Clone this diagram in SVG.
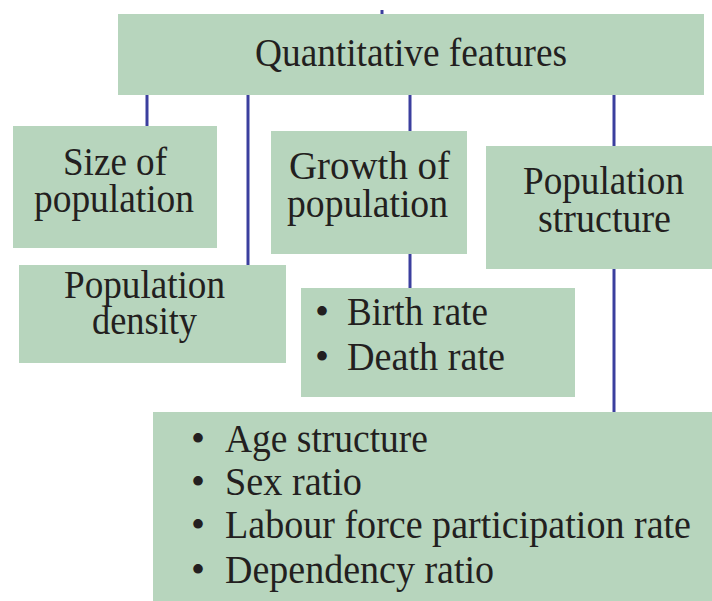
<svg xmlns="http://www.w3.org/2000/svg" width="712" height="601" viewBox="0 0 712 601">
<style>
.box{fill:#b7d5bd}
.t{font-family:"Liberation Serif","Times New Roman",serif;font-size:40px;fill:#231f20}
.b{text-anchor:middle}
.c{stroke:#3b3f9e;stroke-width:3;fill:none}
</style>
<rect width="712" height="601" fill="#ffffff"/>
<g id="connectors">
<line class="c" x1="382" y1="10" x2="382" y2="15"/>
<line class="c" x1="147" y1="94" x2="147" y2="127"/>
<line class="c" x1="248" y1="94" x2="248" y2="266"/>
<line class="c" x1="410" y1="94" x2="410" y2="132"/>
<line class="c" x1="410" y1="253" x2="410" y2="289"/>
<line class="c" x1="614" y1="94" x2="614" y2="147"/>
<line class="c" x1="614" y1="268" x2="614" y2="413"/>
</g>
<g id="quantitative-features">
<rect class="box" x="118" y="14" width="586" height="81"/>
<text class="t" x="255" y="66" textLength="312" lengthAdjust="spacingAndGlyphs">Quantitative features</text>
</g>
<g id="size-of-population">
<rect class="box" x="13" y="126" width="204" height="122"/>
<text class="t" x="63" y="175" textLength="104" lengthAdjust="spacingAndGlyphs">Size of</text>
<text class="t" x="34" y="212" textLength="160" lengthAdjust="spacingAndGlyphs">population</text>
</g>
<g id="population-density">
<rect class="box" x="19" y="265" width="267" height="98"/>
<text class="t" x="64" y="298" textLength="161" lengthAdjust="spacingAndGlyphs">Population</text>
<text class="t" x="92" y="334" textLength="105" lengthAdjust="spacingAndGlyphs">density</text>
</g>
<g id="growth-of-population">
<rect class="box" x="271" y="131" width="196" height="123"/>
<text class="t" x="289" y="179" textLength="161" lengthAdjust="spacingAndGlyphs">Growth of</text>
<text class="t" x="287" y="217" textLength="161" lengthAdjust="spacingAndGlyphs">population</text>
</g>
<g id="population-structure">
<rect class="box" x="486" y="146" width="226" height="123"/>
<text class="t" x="523" y="194" textLength="161" lengthAdjust="spacingAndGlyphs">Population</text>
<text class="t" x="538" y="232" textLength="133" lengthAdjust="spacingAndGlyphs">structure</text>
</g>
<g id="birth-death-rate">
<rect class="box" x="301" y="288" width="274" height="109"/>
<text class="t b" x="322" y="325">•</text>
<text class="t" x="347" y="325" textLength="141" lengthAdjust="spacingAndGlyphs">Birth rate</text>
<text class="t b" x="322" y="370">•</text>
<text class="t" x="347" y="370" textLength="158" lengthAdjust="spacingAndGlyphs">Death rate</text>
</g>
<g id="structure-items">
<rect class="box" x="153" y="412" width="559" height="189"/>
<text class="t b" x="198" y="452">•</text>
<text class="t" x="225" y="452" textLength="203" lengthAdjust="spacingAndGlyphs">Age structure</text>
<text class="t b" x="198" y="495">•</text>
<text class="t" x="225" y="495" textLength="137" lengthAdjust="spacingAndGlyphs">Sex ratio</text>
<text class="t b" x="198" y="538">•</text>
<text class="t" x="225" y="538" textLength="466" lengthAdjust="spacingAndGlyphs">Labour force participation rate</text>
<text class="t b" x="198" y="583">•</text>
<text class="t" x="225" y="583" textLength="269" lengthAdjust="spacingAndGlyphs">Dependency ratio</text>
</g>
</svg>
